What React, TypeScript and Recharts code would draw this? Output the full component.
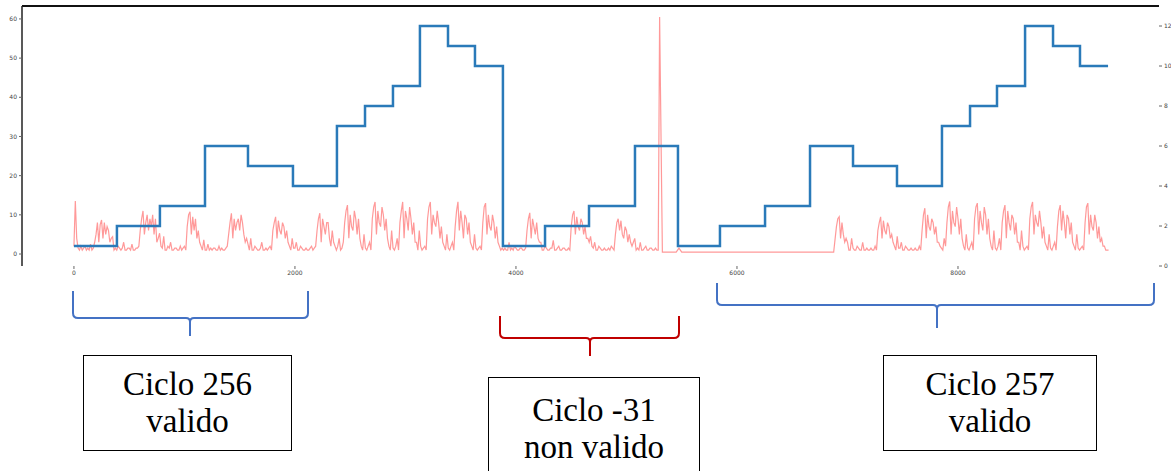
import { LineChart, Line, XAxis, YAxis, ReferenceLine } from 'recharts';

// asse x: campioni
const xTicks = [0, 2000, 4000, 6000, 8000];
const leftTicks = [0, 10, 20, 30, 40, 50, 60];
const rightTicks = [0, 2, 4, 6, 8, 10, 12];

// segnale rosa (un valore ogni 12.5 campioni)
const pinkStep = 12.5;
const pinkCycle256 = [
  2, 13.5, 4, 1.5, 1, 2, 1, 1.5, 2, 1, 1.5, 1, 2.5, 1, 1.5, 3,
  5, 8, 3, 7.5, 8.7, 4, 8, 5, 7, 6, 3, 4,
  4.4, 1, 1.5, 1, 2, 1.5, 1, 1.5, 3, 1, 1, 1.5, 1.5, 1, 2.5, 1, 1, 1.5, 1.5, 2,
  6, 9, 11, 5, 8, 10, 6, 9, 7, 10, 5, 9, 3, 4,
  5.3, 2, 1.5, 4.5, 1, 1, 2, 1.5, 3, 1, 1, 1.5, 1.5, 1, 1, 2, 1, 1.5, 2, 1,
  7, 10, 10.8, 5, 9.5, 6, 9, 4, 6, 3,
  2, 1, 3.6, 1, 1, 2.5, 1, 1.5, 1, 1.5, 1.5, 1, 1, 2, 1, 1.5, 1, 1, 1.5, 2,
  5, 8, 10.4, 4, 9, 6, 8, 9, 6, 10, 8, 5, 3, 4,
  2.5, 1, 4, 1, 1, 2, 1.5, 1, 1, 1.5, 3, 1, 1, 1.5, 1, 1.5, 2, 1,
  6, 8, 9.5, 4, 8.5, 6, 5, 8, 7, 4, 6, 3,
  2, 1, 4, 1.5, 1.5, 3, 1, 1, 2, 1.5, 1, 1, 1.5, 1, 1, 1.5, 2, 1, 1.5, 2,
  6, 9, 10.4, 3, 9, 7, 5, 8, 8, 4, 2, 6, 3, 2,
  1, 2, 4, 1, 1.5, 3,
  8, 11, 12.5, 4, 10, 7, 6, 11, 9, 5, 9, 4,
  2, 1, 5, 1.5, 1, 2, 3, 1,
  9, 12, 13.3, 5, 11, 8, 7, 12, 10, 6, 9, 4,
  2, 1, 6, 1.5, 1, 2, 4, 1,
  8, 11, 13.3, 4, 11, 9, 6, 12, 9, 5, 8, 3,
  3, 1, 6, 2, 1, 1.5, 2, 1,
  9, 12, 13.3, 5, 10, 8, 7, 11, 8, 4, 7, 3,
  2, 1, 5, 1.5, 1, 2, 3, 1,
  7, 11, 13.3, 6, 11, 8, 4, 10, 9, 5, 8, 3,
  2, 1, 5, 1.5, 1, 1.5, 2, 1,
  8, 12, 13, 5, 10, 7, 6, 10, 8, 4, 7, 3,
  2, 1, 1.5, 1,
];
const pinkInvalid = [
  1.5, 1, 1, 3, 1, 1.5, 1, 2, 1.5, 1, 1, 1.5, 1.5, 1, 1, 1.5,
  6, 9, 10.5, 4, 9, 7, 5, 8, 4, 3,
  3, 1, 1, 2, 1.5, 1, 1, 1.5, 1.5, 3.5, 1, 1, 1.5, 2, 1, 1, 1.5, 1.5, 1, 1, 1.5, 1,
  7, 10, 11, 5, 9.5, 7, 6, 9, 8, 5, 7, 4, 4, 3,
  4.5, 2, 1.5, 3, 1, 1, 2, 1.5, 1, 1, 1.5, 1, 1, 1.5, 1, 2, 1.5, 1,
  5, 8, 9, 6, 8.5, 5, 4, 7, 6, 3, 5, 3, 2, 3,
  4, 1, 1.5, 1, 3, 1, 1, 1.5, 2, 1, 1, 1.5, 1.5, 1, 1, 1.5, 1, 1,
];
const pinkGap: [number, number][] = [
  [5300, 60.5], [5325, 0.5], [5450, 0.5], [5475, 1.5], [5500, 0.5], [6875, 0.5],
];
const pinkCycle257 = [
  7, 9, 9.5, 4, 8, 5, 3, 4,
  3, 1, 1, 4, 1.5, 1, 1, 2, 1.5, 1, 1, 3, 1, 1, 1.5, 1, 1, 1.5, 1, 1, 2, 1,
  6, 8, 9.5, 4, 8.5, 6, 5, 8, 7, 4, 5, 3,
  2, 1, 4.5, 1.5, 1.5, 3, 1, 1, 2, 1.5, 1, 1, 1.5, 1, 1, 1.5, 1, 1, 2, 1,
  6, 10, 11.7, 4, 10, 7, 6, 9, 8, 5, 7, 3, 3, 2,
  1.5, 1, 4, 2,
  8, 12, 13.4, 5, 11, 8, 7, 12, 9, 5, 9, 4,
  2, 1, 5, 1.5, 1, 2, 3, 1,
  9, 12, 13, 5, 11, 8, 6, 12, 10, 5, 9, 4,
  2, 1, 6, 1.5, 1, 2, 4, 1,
  8, 11, 12.5, 4, 11, 8, 6, 10, 9, 5, 8, 3,
  3, 1, 6, 2, 1, 1.5, 2, 1,
  9, 12, 13.3, 5, 10, 8, 7, 11, 8, 4, 7, 3,
  2, 1, 5, 1.5, 1, 2, 3, 1,
  7, 11, 12.5, 6, 11, 8, 4, 10, 9, 5, 8, 3,
  2, 1, 5, 1.5, 1, 1.5, 2, 1,
  8, 12, 13, 5, 10, 7, 6, 10, 8, 4, 7, 3,
  4, 2, 2, 1, 1, 1,
];

// gradini blu (asse destro)
const blueX = [0, 389, 778, 1186, 1575, 1982, 2380, 2634, 2887, 3131, 3385, 3629, 3882, 4263, 4661, 5077, 5466, 5846, 6254, 6661, 7050, 7448, 7855, 8109, 8353, 8607, 8860, 9104, 9358];
const blueY = [1, 2, 3, 6, 5, 4, 7, 8, 9, 12, 11, 10, 1, 2, 3, 6, 1, 2, 3, 6, 5, 4, 7, 8, 9, 12, 11, 10, 10];

const seg = (start: number, vals: number[]) => vals.map((v, i) => ({ x: start + i * pinkStep, v }));

const pinkData = [
  ...seg(0, pinkCycle256),
  ...seg(3900, pinkInvalid),
  ...pinkGap.map(([x, v]) => ({ x, v })),
  ...seg(6900, pinkCycle257),
];
const blueData = blueX.map((x, i) => ({ x, v: blueY[i] }));

const tickStyle = { fontSize: 6, fill: '#444', fontFamily: 'DejaVu Sans' };

const boxStyle: React.CSSProperties = {
  position: 'absolute',
  border: '1.5px solid #000',
  boxSizing: 'border-box',
  background: '#fff',
  fontFamily: '"Liberation Serif", serif',
  fontSize: 33,
  lineHeight: '37px',
  textAlign: 'center',
  display: 'flex',
  flexDirection: 'column',
  justifyContent: 'center',
  color: '#000',
};

export default function App() {
  return (
    <div style={{ position: 'absolute', left: 0, top: 0, width: 1171, height: 471, background: '#fff', overflow: 'hidden' }}>
      <LineChart width={1171} height={290} margin={{ top: 6, right: 0, bottom: 0, left: 0 }}>
        <XAxis
          dataKey='x'
          type='number'
          domain={[-470, 9819]}
          ticks={xTicks}
          allowDataOverflow
          axisLine={false}
          tickLine={{ stroke: '#666' }}
          tickSize={3}
          height={24}
          tick={tickStyle}
        />
        <YAxis
          yAxisId='left'
          domain={[-3.06, 63.3]}
          ticks={leftTicks}
          allowDataOverflow
          width={22}
          axisLine={{ stroke: '#222', strokeWidth: 1.5 }}
          tickLine={{ stroke: '#666' }}
          tickSize={3}
          tick={tickStyle}
        />
        <YAxis
          yAxisId='right'
          orientation='right'
          domain={[0, 13]}
          ticks={rightTicks}
          allowDataOverflow
          width={12}
          axisLine={false}
          tickLine={{ stroke: '#666' }}
          tickSize={3}
          tick={tickStyle}
        />
        <ReferenceLine yAxisId='left' y={63.3} stroke='#111' strokeWidth={2} />
        <Line
          yAxisId='left'
          data={pinkData}
          dataKey='v'
          type='linear'
          stroke='#ff8080'
          strokeOpacity={0.8}
          strokeWidth={1.2}
          dot={false}
          isAnimationActive={false}
        />
        <Line
          yAxisId='right'
          data={blueData}
          dataKey='v'
          type='stepAfter'
          stroke='#2a7ab9'
          strokeWidth={2.5}
          dot={false}
          isAnimationActive={false}
        />
      </LineChart>

      <svg width={1171} height={471} style={{ position: 'absolute', left: 0, top: 0, pointerEvents: 'none' }}>
        <path
          d='M73,291 V313 Q73,318 78,318 H186 Q190,318 190,322 V336 M190,322 Q190,318 194,318 H303 Q308,318 308,313 V291'
          fill='none'
          stroke='#4472c4'
          strokeWidth={2}
        />
        <path
          d='M500,316 V333 Q500,338 505,338 H586 Q590,338 590,342 V356 M590,342 Q590,338 594,338 H674 Q679,338 679,333 V316'
          fill='none'
          stroke='#c00000'
          strokeWidth={2}
        />
        <path
          d='M717,283 V300 Q717,305 722,305 H933 Q937,305 937,309 V328 M937,309 Q937,305 941,305 H1149 Q1154,305 1154,300 V283'
          fill='none'
          stroke='#4472c4'
          strokeWidth={2}
        />
      </svg>

      <div style={{ ...boxStyle, left: 83, top: 355, width: 209, height: 96 }}>
        <div>Ciclo 256</div>
        <div>valido</div>
      </div>
      <div style={{ ...boxStyle, left: 488, top: 377, width: 212, height: 104, justifyContent: 'flex-start', paddingTop: 14 }}>
        <div>Ciclo -31</div>
        <div>non valido</div>
      </div>
      <div style={{ ...boxStyle, left: 883, top: 355, width: 214, height: 96 }}>
        <div>Ciclo 257</div>
        <div>valido</div>
      </div>
    </div>
  );
}
